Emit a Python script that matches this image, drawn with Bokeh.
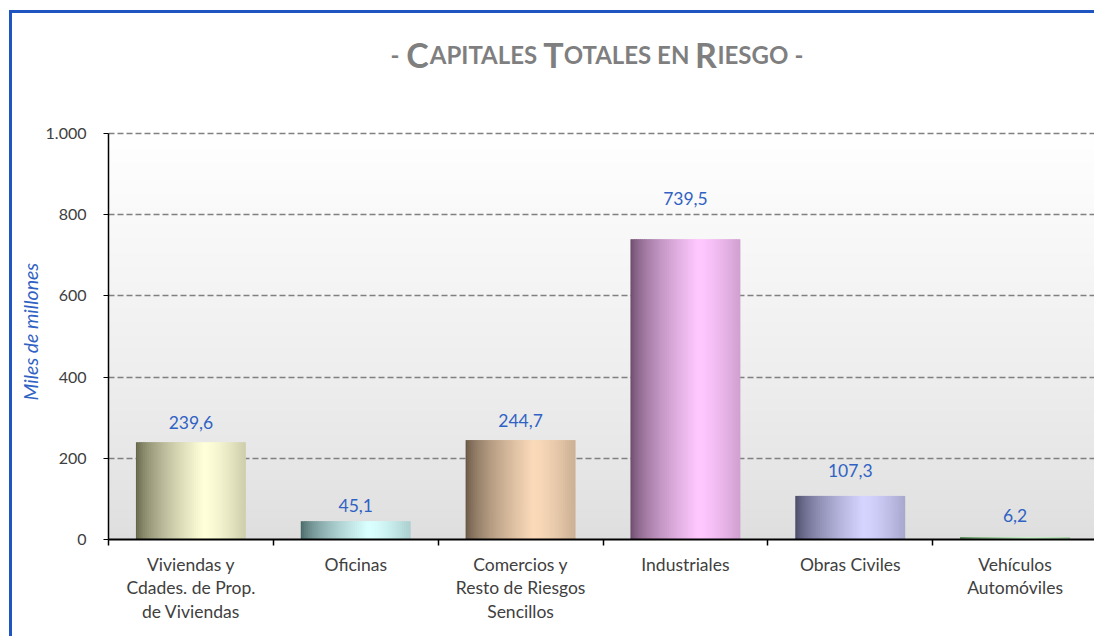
import numpy as np
from bokeh.plotting import figure
from bokeh.models import (Range1d, FixedTicker, ColumnDataSource, Title)
from bokeh.core.properties import value
from bokeh.embed import file_html
from bokeh.resources import INLINE

# ---------------- data ----------------
categories = ["Viviendas y\nCdades. de Prop.\nde Viviendas", "Oficinas",
              "Comercios y\nResto de Riesgos\nSencillos", "Industriales",
              "Obras Civiles", "Vehículos\nAutomóviles"]
capitales = [239.6, 45.1, 244.7, 739.5, 107.3, 6.2]
y_ticks = [0, 200, 400, 600, 800, 1000]
y_tick_labels = ["0", "200", "400", "600", "800", "1.000"]
y_label = "Miles de millones"
title_parts = ["-", "C", "APITALES", "T", "OTALES EN", "R", "IESGO", "-"]

# ---------------- styles ----------------
bar_light = [(255, 255, 218), (218, 255, 255), (250, 218, 185), (255, 200, 255), (212, 212, 255), (200, 240, 200)]
bar_dark = [(88, 88, 62), (62, 92, 92), (92, 76, 60), (96, 66, 96), (62, 62, 92), (80, 130, 80)]
label_gap = [20, 16, 20, 41, 25, 21]
SMALL, BIG = 24, 34
title_size = [SMALL, BIG, SMALL, BIG, SMALL, BIG, SMALL, SMALL]
title_adv_em = [0.66, 0.69, 4.73, 0.60, 5.47, 0.66, 3.21, 0.38]   # approx advance (incl. trailing space)
FONT = "Lato"
BLUE = "#3062c4"

n = len(categories)
centers = [i + 0.5 for i in range(n)]   # category slot centres on the x scale
edges = list(range(n + 1))              # category slot boundaries

FRAME_H = 519
Y_TOP = 1278                 # headroom above the data range for the title
PX = FRAME_H / Y_TOP         # pixels per unit

p = figure(x_range=Range1d(0, n), y_range=Range1d(0, Y_TOP),
           width=1085, height=626, output_backend="svg", toolbar_location=None,
           min_border_left=96, min_border_right=0,
           min_border_top=7, min_border_bottom=100)
p.margin = (10, 0, 0, 9)
p.styles = {"border-left": "3px solid #1f55c0", "border-top": "3px solid #1f55c0"}
p.outline_line_color = None
p.background_fill_color = "white"
p.border_fill_color = "white"

# background gradient (decoration)
rows = 200
t = np.linspace(0, 1, rows)
lvl = (222 + 33 * t ** 0.8).astype(np.uint8)
img = np.empty((rows, 1), dtype=np.uint32)
view = img.view(dtype=np.uint8).reshape((rows, 1, 4))
view[:, 0, 0] = lvl
view[:, 0, 1] = lvl
view[:, 0, 2] = lvl
view[:, 0, 3] = 255
p.image_rgba(image=[img], x=0, y=0, dw=n, dh=y_ticks[-1], level="image")

# grid
p.xgrid.grid_line_color = None
p.ygrid.ticker = FixedTicker(ticks=y_ticks)
p.ygrid.grid_line_color = "#808080"
p.ygrid.grid_line_dash = "6 3"
p.ygrid.grid_line_width = 1.5

# bars with cylinder shading
def shade(tt):
    if tt < 0.62:
        return (tt / 0.62) ** 0.6
    return 1 - 0.3 * ((tt - 0.62) / 0.38) ** 1.5

def mix(d, l, f):
    return "#%02x%02x%02x" % tuple(int(round(d[j] + f * (l[j] - d[j]))) for j in range(3))

N = 56
W = 0.667
for k in range(N):
    tt = (k + 0.5) / N
    off = -W / 2 + (k + 0.5) * W / N
    strip = ColumnDataSource(dict(
        x=[c + off for c in centers], val=capitales,
        color=[mix(bar_dark[i], bar_light[i], shade(tt)) for i in range(n)]))
    wk = W / N * (1.0 if k in (0, N - 1) else 1.8)
    p.vbar(x="x", top="val", width=wk, source=strip,
           fill_color="color", line_color=None)

# data labels
lab = ColumnDataSource(dict(x=centers, val=capitales,
                            txt=[f"{v:.1f}".replace(".", ",") for v in capitales],
                            dy=[-g for g in label_gap]))
p.text(x="x", y="val", text="txt", y_offset="dy", source=lab,
       text_align="center", text_baseline="middle", text_font=value(FONT),
       text_font_size="17.5px", text_color=BLUE)

# title (small-caps look), placed in the headroom above the data range
frame_left, frame_right, frame_bottom = 108, 1097, 539
cx = (frame_left + frame_right) / 2
title_center = 596.5
advs = [a * s for a, s in zip(title_adv_em, title_size)]
x0 = title_center - sum(advs) / 2
starts = [x0 + sum(advs[:i]) for i in range(len(advs))]
tsrc = ColumnDataSource(dict(
    x=[n / 2] * len(title_parts), y=[(frame_bottom - 54) / PX] * len(title_parts),
    txt=title_parts, dx=[s - cx for s in starts],
    size=[f"{s}px" for s in title_size]))
p.text(x="x", y="y", text="txt", x_offset="dx", source=tsrc, text_align="left",
       text_baseline="alphabetic", text_font=value(FONT), text_font_style="bold",
       text_font_size="size", text_color="#7f7f7f")

# y axis
ya = p.yaxis[0]
ya.bounds = (y_ticks[0], y_ticks[-1])
ya.ticker = FixedTicker(ticks=y_ticks)
ya.major_label_overrides = dict(zip(y_ticks, y_tick_labels))
ya.major_label_text_font = FONT
ya.major_label_text_font_size = "16px"
ya.major_label_text_color = "#404040"
ya.major_label_standoff = 17
ya.major_tick_out = 5
ya.major_tick_in = 0
ya.major_tick_line_color = "black"
ya.minor_tick_line_color = None
ya.axis_line_color = "black"
ya.axis_line_width = 1.5

# y axis title, starting at the bottom of the frame and shifted up
p.add_layout(Title(text=y_label, align="left", offset=139,
                   text_font=FONT, text_font_style="italic", text_font_size="19.5px",
                   text_color=BLUE, standoff=2), "left")

# x axis: labels at slot centres, minor ticks at slot boundaries
xa = p.xaxis[0]
xa.ticker = FixedTicker(ticks=centers, minor_ticks=edges)
xa.major_label_overrides = dict(zip(centers, categories))
xa.major_tick_line_color = None
xa.major_tick_out = 0
xa.major_tick_in = 0
xa.minor_tick_out = 6
xa.minor_tick_in = 0
xa.minor_tick_line_color = "black"
xa.minor_tick_line_width = 1.5
xa.axis_line_color = "black"
xa.axis_line_width = 2
xa.major_label_standoff = 8
xa.major_label_text_font = FONT
xa.major_label_text_font_size = "17.5px"
xa.major_label_text_color = "#404040"
xa.major_label_text_line_height = 1.14

open("out.html", "w").write(file_html(p, INLINE))
